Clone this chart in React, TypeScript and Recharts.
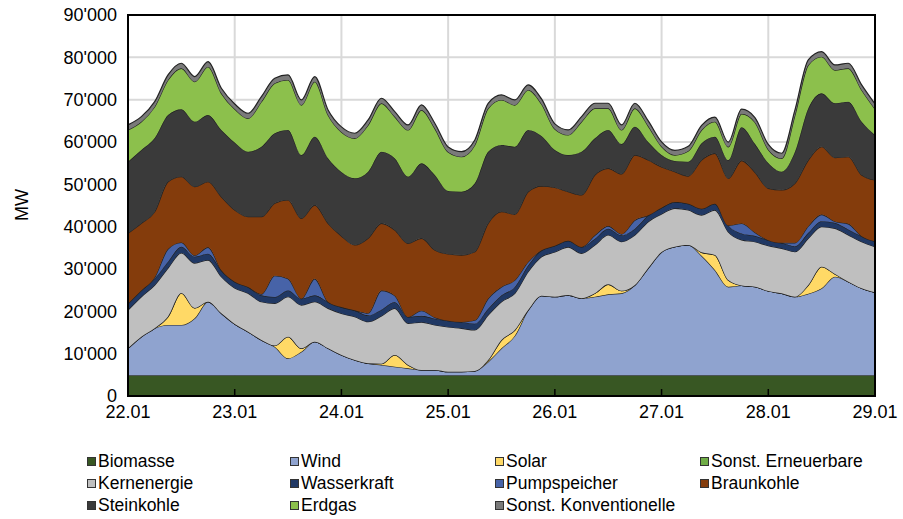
import {
  Area,
  AreaChart,
  CartesianGrid,
  Legend,
  ReferenceArea,
  XAxis,
  YAxis,
} from "recharts";

const font = "'Liberation Sans', Arial, sans-serif";

// x axis: one point every 3 hours, 22.01 00:00 .. 29.01 00:00
const dayLabels = ["22.01", "23.01", "24.01", "25.01", "26.01", "27.01", "28.01", "29.01"];
const dayTicks = [0, 24, 48, 72, 96, 120, 144, 168];
const hours = Array.from({ length: 57 }, (_, i) => i * 3);

const yTicks = [0, 10000, 20000, 30000, 40000, 50000, 60000, 70000, 80000, 90000];
const yTickLabels = ["0", "10'000", "20'000", "30'000", "40'000", "50'000", "60'000", "70'000", "80'000", "90'000"];

// MW per series (3-hourly)
const biomasse = [
  4900, 4900, 4900, 4900, 4900, 4900, 4900, 4900,
  4900, 4900, 4900, 4900, 4900, 4900, 4900, 4900,
  4900, 4900, 4900, 4900, 4900, 4900, 4900, 4900,
  4900, 4900, 4900, 4900, 4900, 4900, 4900, 4900,
  4900, 4900, 4900, 4900, 4900, 4900, 4900, 4900,
  4900, 4900, 4900, 4900, 4900, 4900, 4900, 4900,
  4900, 4900, 4900, 4900, 4900, 4900, 4900, 4900,
  4900,
];
const wind = [
  6370, 9110, 11090, 11870, 11870, 13450, 17370, 14630,
  12100, 10290, 8330, 6740, 4000, 5560, 7930, 6370,
  4780, 3600, 2820, 2420, 2020, 1640, 1240, 1240,
  840, 840, 1000, 3200, 6370, 9340, 15410, 18790,
  18550, 18950, 18180, 18550, 19120, 19360, 21320, 25330,
  29110, 30360, 30770, 28240, 24860, 20900, 21200, 20900,
  19900, 19360, 18550, 19260, 20540, 23280, 22100, 20540,
  19590,
];
const solar = [
  0, 0, 0, 2000, 7560, 2440, 0, 0,
  0, 0, 0, 300, 5110, 800, 0, 0,
  0, 0, 0, 300, 2760, 800, 0, 0,
  0, 0, 0, 400, 1960, 1350, 0, 0,
  0, 0, 0, 800, 2360, 600, 0, 0,
  0, 0, 0, 800, 3540, 1580, 0, 0,
  0, 0, 0, 2060, 5100, 640, 0, 0,
  0,
];
const sonstErneuerbare = [
  0, 0, 0, 0, 0, 0, 0, 0,
  0, 0, 0, 0, 0, 0, 0, 0,
  0, 0, 0, 0, 0, 0, 0, 0,
  0, 0, 0, 0, 0, 0, 0, 0,
  0, 0, 0, 0, 0, 0, 0, 0,
  0, 0, 0, 0, 0, 0, 0, 0,
  0, 0, 0, 0, 0, 0, 0, 0,
  0,
];
const kernenergie = [
  9040, 9440, 10230, 11460, 9450, 10620, 9850, 8650,
  8510, 9070, 9040, 9960, 9440, 10230, 9440, 9440,
  9820, 10230, 9830, 11280, 11030, 9830, 11300, 10630,
  10560, 10250, 9690, 10630, 9040, 8670, 9050, 9210,
  10560, 11340, 10630, 11420, 11650, 11600, 11810, 10940,
  8980, 9070, 8260, 8810, 10630, 11410, 10790, 10630,
  10700, 10630, 10630, 11030, 9450, 10790, 11030, 11010,
  10770,
];
const wasserkraft = [
  1500, 1500, 1500, 1500, 1500, 1500, 1500, 1500,
  1500, 1500, 1500, 1500, 1500, 1500, 1500, 1500,
  1500, 1500, 1500, 1500, 1500, 1500, 1500, 1500,
  1500, 1500, 1500, 1500, 1500, 1500, 1500, 1500,
  1500, 1500, 1500, 1500, 1500, 1500, 1500, 1500,
  1500, 1500, 1500, 1500, 1500, 1500, 1500, 1400,
  1300, 1300, 1300, 1300, 1300, 1300, 1300, 1300,
  1300,
];
const pumpspeicher = [
  0, 0, 300, 3000, 1000, 300, 1500, 0,
  0, 0, 300, 5000, 2750, 0, 3900, 0,
  0, 0, 500, 4500, 1500, 0, 1200, 300,
  0, 0, 800, 2400, 2000, 1600, 800, 0,
  0, 0, 0, 800, 600, 300, 2000, 0,
  0, 0, 0, 0, 0, 0, 2360, 800,
  0, 0, 800, 1570, 1570, 300, 1340, 0,
  0,
];
const braunkohle = [
  16630, 15840, 15510, 15890, 15520, 16230, 15500, 17390,
  16920, 16590, 18280, 17120, 18600, 18980, 17440, 18580,
  16810, 15440, 17700, 15890, 15500, 17400, 17110, 15920,
  15740, 15810, 16190, 17760, 17760, 15560, 16600, 15200,
  13740, 11570, 12270, 14230, 13650, 14180, 15390, 13070,
  9600, 7150, 6530, 11490, 11900, 11110, 14870, 14230,
  12260, 12470, 14060, 15620, 16020, 15080, 15850, 14450,
  14460,
];
const steinkohle = [
  16910, 17320, 17410, 15750, 15920, 15350, 15750, 15760,
  15950, 15350, 16530, 16530, 16530, 14950, 16140, 15350,
  15120, 15750, 15730, 16910, 16930, 15730, 17710, 17710,
  14880, 14960, 16160, 16910, 15760, 15960, 14570, 11810,
  8860, 8660, 10220, 8670, 9050, 7080, 6690, 4250,
  2830, 2530, 3380, 3950, 3920, 4320, 7890, 6710,
  5970, 4320, 7460, 12210, 12620, 12850, 12990, 12590,
  10630,
];
const erdgas = [
  7490, 6680, 7390, 8270, 9680, 9450, 11410, 8670,
  7910, 7890, 10630, 11810, 11810, 11810, 12990, 10230,
  9440, 9450, 11030, 11440, 9830, 11030, 12590, 11030,
  9210, 8260, 9050, 10250, 10630, 9850, 9450, 7560,
  4960, 4730, 7090, 7080, 5120, 3310, 4340, 3780,
  2010, 1410, 2530, 3140, 3540, 3140, 3140, 5100,
  3190, 3160, 8670, 10230, 8640, 7860, 7890, 7490,
  6140,
];
const sonstKonventionelle = [
  1200, 1200, 1200, 1200, 1200, 1200, 1200, 1200,
  1200, 1200, 1200, 1200, 1200, 1200, 1200, 1200,
  1200, 1200, 1200, 1200, 1200, 1200, 1200, 1200,
  1200, 1200, 1200, 1200, 1200, 1200, 1200, 1200,
  1200, 1200, 1200, 1200, 1200, 1200, 1200, 1200,
  1100, 1100, 1100, 1100, 1100, 1100, 1100, 1100,
  1200, 1200, 1200, 1200, 1200, 1200, 1200, 1200,
  1200,
];

// stacking order bottom -> top, also the legend order
const series = [
  { key: "biomasse", name: "Biomasse", color: "#385723", values: biomasse },
  { key: "wind", name: "Wind", color: "#8FA3CF", values: wind },
  { key: "solar", name: "Solar", color: "#FFD966", values: solar },
  { key: "sonstErn", name: "Sonst. Erneuerbare", color: "#70AD47", values: sonstErneuerbare },
  { key: "kern", name: "Kernenergie", color: "#BFBFBF", values: kernenergie },
  { key: "wasser", name: "Wasserkraft", color: "#203864", values: wasserkraft },
  { key: "pump", name: "Pumpspeicher", color: "#4763A8", values: pumpspeicher },
  { key: "braun", name: "Braunkohle", color: "#843C0C", values: braunkohle },
  { key: "stein", name: "Steinkohle", color: "#3A3A3A", values: steinkohle },
  { key: "erdgas", name: "Erdgas", color: "#8CC04C", values: erdgas },
  { key: "sonstKonv", name: "Sonst. Konventionelle", color: "#7A7A7A", values: sonstKonventionelle },
];

const rows = hours.map((h, i) => {
  const row: Record<string, number> = { h };
  for (const s of series) row[s.key] = s.values[i];
  return row;
});

const legendCols = [87, 290, 495, 700];

function LegendContent() {
  return (
    <div style={{ position: "relative", width: 903, height: 66, fontFamily: font, fontSize: 17.5, color: "#000" }}>
      {series.map((s, i) => (
        <div
          key={s.key}
          style={{
            position: "absolute",
            left: legendCols[i % 4],
            top: Math.floor(i / 4) * 22,
            height: 22,
            display: "flex",
            alignItems: "center",
            whiteSpace: "nowrap",
          }}
        >
          <span
            style={{
              display: "inline-block",
              width: 7,
              height: 7,
              background: s.color,
              border: "1px solid #333",
              marginRight: 2,
            }}
          />
          <span>{s.name}</span>
        </div>
      ))}
    </div>
  );
}

export default function App() {
  return (
    <div style={{ position: "absolute", left: 0, top: 0, fontFamily: font }}>
      <AreaChart width={903} height={519} data={rows} margin={{ top: 15, right: 28, bottom: 93, left: 0 }}>
        <CartesianGrid stroke="#d9d9d9" strokeWidth={2} />
        <XAxis
          dataKey="h"
          type="number"
          domain={[0, 168]}
          ticks={dayTicks}
          interval={0}
          tickFormatter={(h: number) => dayLabels[h / 24]}
          axisLine={false}
          tickLine={{ stroke: "#000", strokeWidth: 1.5 }}
          tickSize={-7}
          tickMargin={16}
          tick={{ fill: "#000", fontSize: 18, fontFamily: font }}
        />
        <YAxis
          type="number"
          domain={[0, 90000]}
          ticks={yTicks}
          interval={0}
          tickFormatter={(v: number) => yTickLabels[yTicks.indexOf(v)]}
          width={128}
          axisLine={false}
          tickLine={false}
          tickSize={0}
          tickMargin={11}
          tick={{ fill: "#000", fontSize: 18, fontFamily: font }}
          label={() => (
            <text
              x={22}
              y={205}
              transform="rotate(-90 22 205)"
              textAnchor="middle"
              dominantBaseline="central"
              fontSize={18}
              fontFamily={font}
              fill="#000"
            >
              MW
            </text>
          )}
        />
        {series.map((s) => (
          <Area
            key={s.key}
            type="monotone"
            dataKey={s.key}
            name={s.name}
            stackId="1"
            fill={s.color}
            fillOpacity={1}
            stroke="#222"
            strokeWidth={1.2}
            dot={false}
            activeDot={false}
            isAnimationActive={false}
          />
        ))}
        <ReferenceArea x1={0} x2={168} y1={0} y2={90000} fill="none" stroke="#000" strokeWidth={2} ifOverflow="visible" />
        <Legend
          layout="vertical"
          align="center"
          verticalAlign="middle"
          wrapperStyle={{ left: 0, top: 450, width: 903, height: 66 }}
          content={() => <LegendContent />}
        />
      </AreaChart>
    </div>
  );
}
